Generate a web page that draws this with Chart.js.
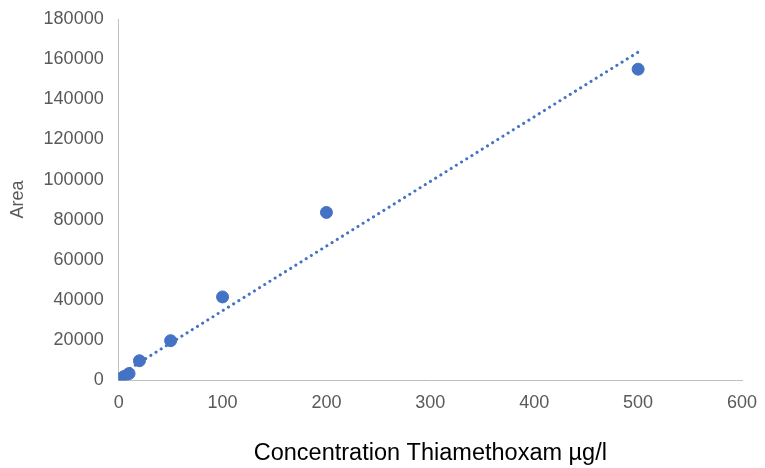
<!DOCTYPE html>
<html>
<head>
<meta charset="utf-8">
<script src="https://cdn.jsdelivr.net/npm/chart.js@4"></script>
<style>
  html, body { margin: 0; padding: 0; background: #fff; }
  #wrap { width: 765px; height: 468px; }
</style>
</head>
<body>
<div id="wrap"><canvas id="c" width="765" height="468"></canvas></div>
<script>
// calibration points
const concentrations = [1, 2, 5, 10, 20, 50, 100, 200, 500];
const areas = [400, 900, 1800, 3300, 9700, 19700, 41500, 83600, 155000];
// linear trendline endpoints
const trendX = [1, 500];
const trendY = [2700, 163500];

const xTicks = [0, 100, 200, 300, 400, 500, 600];
const yTicks = [0, 20000, 40000, 60000, 80000, 100000, 120000, 140000, 160000, 180000];

const blue = '#4472C4';
const gray = '#595959';

new Chart(document.getElementById('c'), {
  type: 'scatter',
  data: {
    datasets: [
      {
        label: 'Area',
        data: concentrations.map((x, i) => ({ x: x, y: areas[i] })),
        backgroundColor: blue,
        borderColor: blue,
        pointRadius: 6,
        pointHoverRadius: 6
      },
      {
        label: 'Trend',
        type: 'line',
        data: trendX.map((x, i) => ({ x: x, y: trendY[i] })),
        borderColor: blue,
        borderWidth: 3,
        borderDash: [0.1, 6],
        borderCapStyle: 'round',
        pointRadius: 0,
        fill: false
      }
    ]
  },
  options: {
    responsive: false,
    animation: false,
    layout: { padding: { top: 19, right: 23, left: 7, bottom: 0 } },
    plugins: { legend: { display: false }, tooltip: { enabled: false } },
    scales: {
      x: {
        type: 'linear',
        min: 0, max: 600,
        afterBuildTicks: s => { s.ticks = xTicks.map(v => ({ value: v })); },
        afterFit: s => { s.paddingRight = 0; },
        grid: { display: false, drawTicks: false },
        border: { color: '#BFBFBF', width: 1 },
        ticks: { color: gray, font: { family: 'Liberation Sans', size: 18 }, padding: 12, callback: v => String(v) },
        title: {
          display: true,
          text: 'Concentration Thiamethoxam µg/l',
          color: '#000',
          font: { family: 'Liberation Sans', size: 23.5 },
          padding: { top: 14, bottom: 0 }
        }
      },
      y: {
        type: 'linear',
        min: 0, max: 180000,
        afterBuildTicks: s => { s.ticks = yTicks.map(v => ({ value: v })); },
        afterFit: s => { s.paddingTop = 0; },
        grid: { display: false, drawTicks: false },
        border: { color: '#BFBFBF', width: 1 },
        ticks: { color: gray, font: { family: 'Liberation Sans', size: 18 }, padding: 15, callback: v => String(v) },
        title: {
          display: true,
          text: 'Area',
          color: gray,
          font: { family: 'Liberation Sans', size: 18 },
          padding: { top: 0, bottom: 0 }
        }
      }
    }
  }
});
</script>
</body>
</html>
